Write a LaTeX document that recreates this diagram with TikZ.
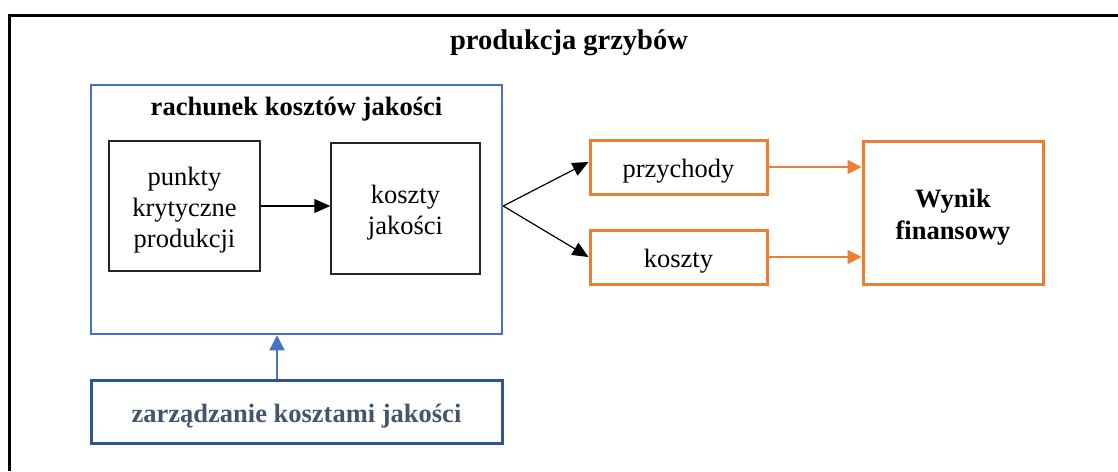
\documentclass[tikz,border=0pt]{standalone}
\usepackage{fontspec}
\setmainfont{Liberation Serif}
\usetikzlibrary{arrows.meta,calc}
\definecolor{accblue}{HTML}{4472C4}
\definecolor{deepblue}{HTML}{2F5597}
\definecolor{slate}{HTML}{44546A}
\definecolor{accorange}{HTML}{ED7D31}

\begin{document}
\begin{tikzpicture}[x=1pt,y=-1pt,
  txt/.style={font=\fontsize{26.5}{31}\selectfont, align=center, inner sep=0pt},
  boldtxt/.style={txt, font=\fontsize{26.5}{32}\selectfont\bfseries},
  boxtext/.style={txt, yshift=-4.5pt},
  boldboxtext/.style={boldtxt, yshift=-4.5pt},
  blackbox/.style={draw=black!85, line width=1.5pt, inner sep=0pt},
  orangebox/.style={draw=accorange, line width=3pt, inner sep=0pt},
  blackarrow/.style={draw=black, line width=1.2pt, -{Triangle[length=16pt,width=14pt]}},
  orangearrow/.style={draw=accorange, line width=1.5pt, -{Triangle[length=14pt,width=14pt]}},
  bluearrow/.style={draw=accblue, line width=1.3pt, -{Triangle[length=15pt,width=15pt]}}
]
\useasboundingbox (0,0) rectangle (1118,471);

% outer frame (only top and left edges fall inside the page)
\draw[line width=3pt, black] (1118,15) -- (9,15) -- (9,471);

% heading
\node[boldtxt, font=\fontsize{28.5}{32}\selectfont\bfseries, anchor=base] (title) at (569,49) {produkcja grzybów};

% quality cost accounting block
\node[draw=accblue, line width=2.5pt, minimum width=411, minimum height=249, inner sep=0pt] (rk) at (296.5,209.5) {};
\node[boldtxt, anchor=base] (rktitle) at (296.5,115) {rachunek kosztów jakości};

\node[blackbox, minimum width=151, minimum height=130] (pk) at (184.5,206) {};
\node[boxtext] (pktext) at (pk.center) {punkty\\krytyczne\\produkcji};
\node[blackbox, minimum width=149, minimum height=131] (kj) at (405.5,208.5) {};
\node[boxtext] (kjtext) at (kj.center) {koszty\\jakości};

% management block
\node[draw=deepblue, line width=3pt, minimum width=411, minimum height=63, inner sep=0pt] (zk) at (296.5,411.5) {};
\node[boldboxtext, text=slate] (zktext) at (zk.center) {zarządzanie kosztami jakości};

% revenues, costs, result
\node[orangebox, minimum width=177, minimum height=54] (prz) at (678.5,167) {};
\node[boxtext] (prztext) at (prz.center) {przychody};
\node[orangebox, minimum width=177, minimum height=54] (ko) at (678.5,257) {};
\node[boxtext] (kotext) at (ko.center) {koszty};
\node[orangebox, minimum width=180, minimum height=143] (wf) at (953,212.5) {};
\node[boldboxtext] (wftext) at (wf.center) {Wynik\\finansowy};

% connectors
\coordinate (fork) at (rk.east |- pk.east);
\coordinate (przin) at ($(prz.west)+(0,-5)$);
\draw[blackarrow] (pk.east) -- (pk.east -| kj.west);
\draw[blackarrow] (fork) -- (przin);
\draw[blackarrow] (fork) -- (ko.west);
\draw[orangearrow] (prz.east) -- (prz.east -| wf.west);
\draw[orangearrow] (ko.east) -- (ko.east -| wf.west);
\draw[bluearrow] (zk.north -| 277,0) -- (rk.south -| 277,0);
\end{tikzpicture}
\end{document}
